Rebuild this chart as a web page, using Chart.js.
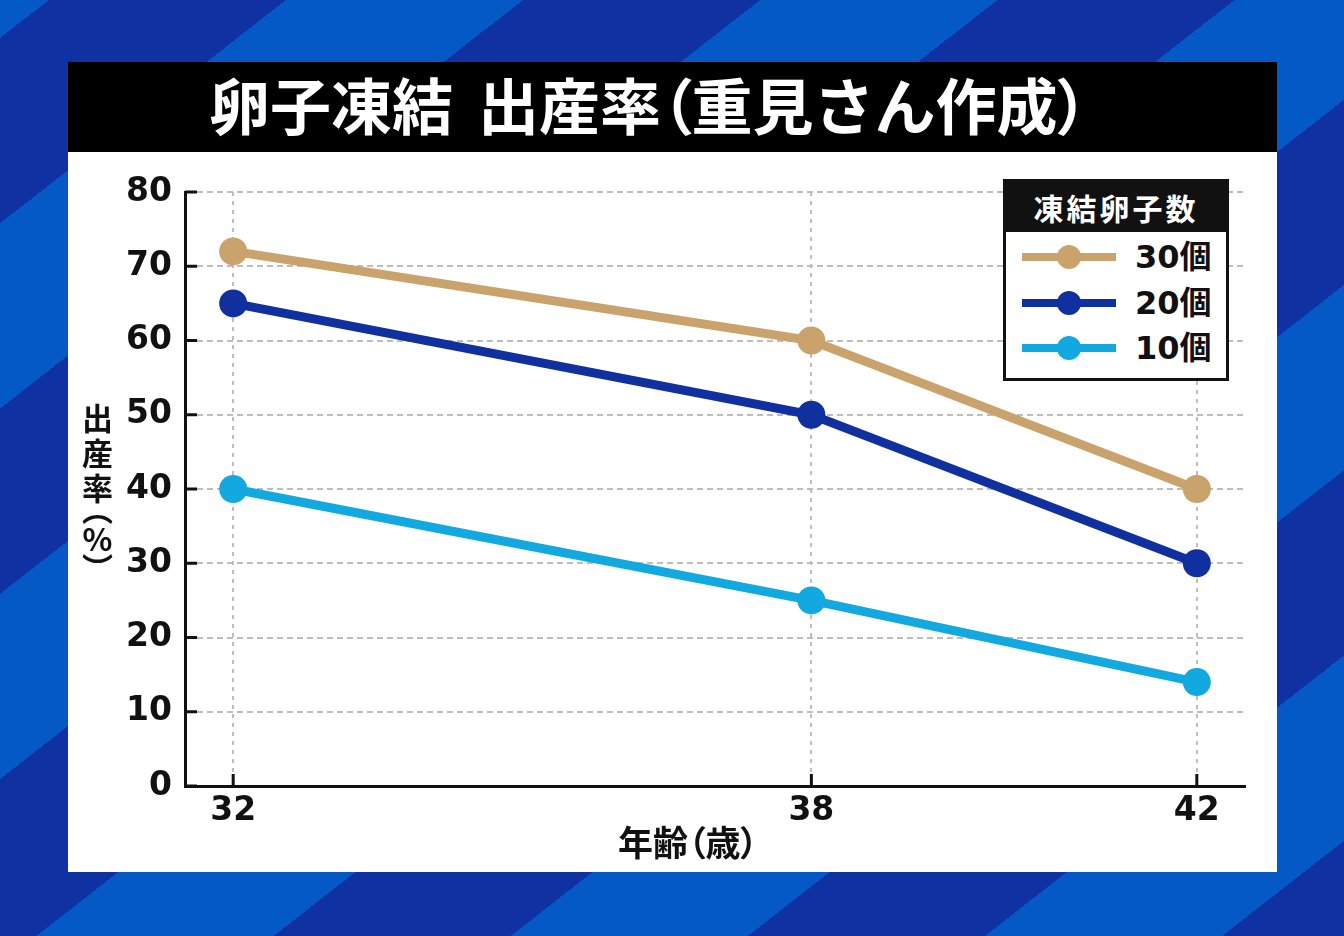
<!DOCTYPE html>
<html lang="ja">
<head>
<meta charset="utf-8">
<title>卵子凍結 出産率</title>
<script src="https://cdn.jsdelivr.net/npm/chart.js@4.4.1/dist/chart.umd.min.js"></script>
<style>
  html, body { margin: 0; padding: 0; width: 1344px; height: 936px; overflow: hidden; }
  #bg {
    position: absolute; left: 0; top: 0; width: 1344px; height: 936px;
    background: repeating-linear-gradient(142deg,
      #0559c6 0px, #0559c6 30px, #1031a1 30px, #1031a1 176px, #0559c6 176px, #0559c6 292px);
  }
  #panel { position: absolute; left: 68px; top: 62px; width: 1209px; height: 810px; background: #fff; }
  #titlebar {
    position: absolute; left: 68px; top: 62px; width: 1209px; height: 90px; background: #000;
    color: #fff; font-family: "Noto Sans CJK JP", sans-serif; font-weight: 700; font-size: 61px;
    line-height: 90px; white-space: nowrap;
  }
  #titlebar span.t { position: absolute; left: 141px; top: -3px; }
  #titlebar span.gap { display: inline-block; width: 25px; }
  .p { font-feature-settings: "palt"; }
  #chart { position: absolute; left: 0; top: 0; }
  #ytitle {
    position: absolute; left: 82px; top: 403px;
    writing-mode: vertical-rl; text-orientation: upright;
    font-family: "Noto Sans CJK JP", sans-serif; font-weight: 700; font-size: 31px; line-height: 31px;
    color: #111;
  }
  #ytitle .k { letter-spacing: 4px; }
  #ytitle .v { font-feature-settings: "vpal"; }
  #xtitle {
    position: absolute; left: 618px; top: 822px;
    font-family: "Noto Sans CJK JP", sans-serif; font-weight: 700; font-size: 35px; line-height: 38px;
    color: #111; white-space: nowrap;
  }
  #legend {
    position: absolute; left: 1003px; top: 179px; width: 226px; height: 202px; box-sizing: border-box;
    border: 3px solid #111; background: #fff;
  }
  #legend .head {
    height: 50px; background: #111; color: #fff; text-align: center;
    font-family: "Noto Sans CJK JP", sans-serif; font-weight: 700; font-size: 30px; line-height: 50px;
    letter-spacing: 3px;
  }
  #legend .row { position: absolute; left: 0; width: 220px; height: 40px; }
  #legend .line { position: absolute; left: 16px; top: 16px; width: 94px; height: 8px; }
  #legend .dot { position: absolute; left: 51px; top: 8px; width: 24px; height: 24px; border-radius: 50%; }
  #legend .lab {
    position: absolute; left: 129px; top: 0; line-height: 40px;
    font-family: "DejaVu Sans", "Noto Sans CJK JP", sans-serif; font-weight: 700; font-size: 32px; color: #111;
  }
</style>
</head>
<body>
<div id="bg"></div>
<div id="panel"></div>
<div id="titlebar"><span class="t">卵子凍結<span class="gap"></span>出産率<span class="p">（</span>重見さん作成<span class="p">）</span></span></div>
<canvas id="chart" width="1344" height="936"></canvas>
<div id="ytitle"><span class="k">出産率</span><span class="v">（</span>%<span class="v">）</span></div>
<div id="xtitle">年齢<span class="p">（</span>歳<span class="p">）</span></div>
<div id="legend"><div class="head">凍結卵子数</div></div>
<script>
// 年齢 (x) と 出産率 (%) を凍結卵子数ごとに
const ages = [32, 38, 42]
const series_labels = ['30個', '20個', '10個']
const rate_30 = [72, 60, 40]
const rate_20 = [65, 50, 30]
const rate_10 = [40, 25, 14]
const series_colors = ['#c9a26c', '#1030a0', '#12a8e0']

const x_min = 31.5
const x_max = 42.5
const y_min = 0
const y_max = 80
const y_step = 10

const tick_font = { family: "'DejaVu Sans', 'Noto Sans CJK JP', sans-serif", size: 33, weight: 'bold' }

function make_points(values) {
    return ages.map((a, i) => ({ x: a, y: values[i] }))
}

let all_rates = [rate_30, rate_20, rate_10]

let datasets = all_rates.map((vals, i) => ({
    label: series_labels[i],
    data: make_points(vals),
    borderColor: series_colors[i],
    backgroundColor: series_colors[i],
    pointBackgroundColor: series_colors[i],
    pointBorderWidth: 0,
    pointRadius: 14,
    pointHoverRadius: 14,
    borderWidth: 9,
    tension: 0
}))

// 軸の内側に短い目盛りを描く
const inward_ticks = {
    id: 'inward_ticks',
    beforeDatasetsDraw(chart) {
        const ctx = chart.ctx
        const area = chart.chartArea
        const xs = chart.scales.x
        const ys = chart.scales.y
        ctx.save()
        ctx.strokeStyle = '#111'
        ctx.lineWidth = 3
        ctx.setLineDash([])
        ys.ticks.forEach(t => {
            let py = ys.getPixelForValue(t.value)
            ctx.beginPath()
            ctx.moveTo(area.left, py)
            ctx.lineTo(area.left + 12, py)
            ctx.stroke()
        })
        xs.ticks.forEach(t => {
            let px = xs.getPixelForValue(t.value)
            ctx.beginPath()
            ctx.moveTo(px, area.bottom)
            ctx.lineTo(px, area.bottom - 12)
            ctx.stroke()
        })
        ctx.restore()
    }
}

let options = {
    responsive: false,
    animation: false,
    devicePixelRatio: 1,
    layout: { padding: { left: 85, right: 99, top: 192, bottom: 90 } },
    plugins: { legend: { display: false }, tooltip: { enabled: false } },
    scales: {
        x: {
            type: 'linear',
            min: x_min,
            max: x_max,
            afterBuildTicks: (s) => { s.ticks = ages.map(v => ({ value: v })) },
            afterFit: (s) => { s.height = 60 },
            grid: { color: '#bdbdbd', lineWidth: 2, drawTicks: false },
            border: { color: '#111', width: 3, dash: [4, 5] },
            ticks: { color: '#111', font: tick_font, padding: 6, maxRotation: 0 }
        },
        y: {
            min: y_min,
            max: y_max,
            afterFit: (s) => { s.width = 100 },
            grid: { color: '#bdbdbd', lineWidth: 2, drawTicks: false },
            border: { color: '#111', width: 3, dash: [6, 4] },
            ticks: { stepSize: y_step, color: '#111', font: tick_font, padding: 13 }
        }
    }
}

let my_chart = new Chart(document.getElementById('chart'), {
    type: 'line',
    data: { datasets: datasets },
    options: options,
    plugins: [inward_ticks]
})

// 凡例 (HTML) をデータセットから作る
let legend_box = document.getElementById('legend')
let row_tops = [55, 101, 146]
my_chart.data.datasets.forEach((ds, i) => {
    let row = document.createElement('div')
    row.className = 'row'
    row.style.top = row_tops[i] + 'px'
    row.innerHTML = '<div class="line" style="background:' + ds.borderColor + '"></div>' +
        '<div class="dot" style="background:' + ds.borderColor + '"></div>' +
        '<div class="lab">' + ds.label + '</div>'
    legend_box.appendChild(row)
})
</script>
</body>
</html>
